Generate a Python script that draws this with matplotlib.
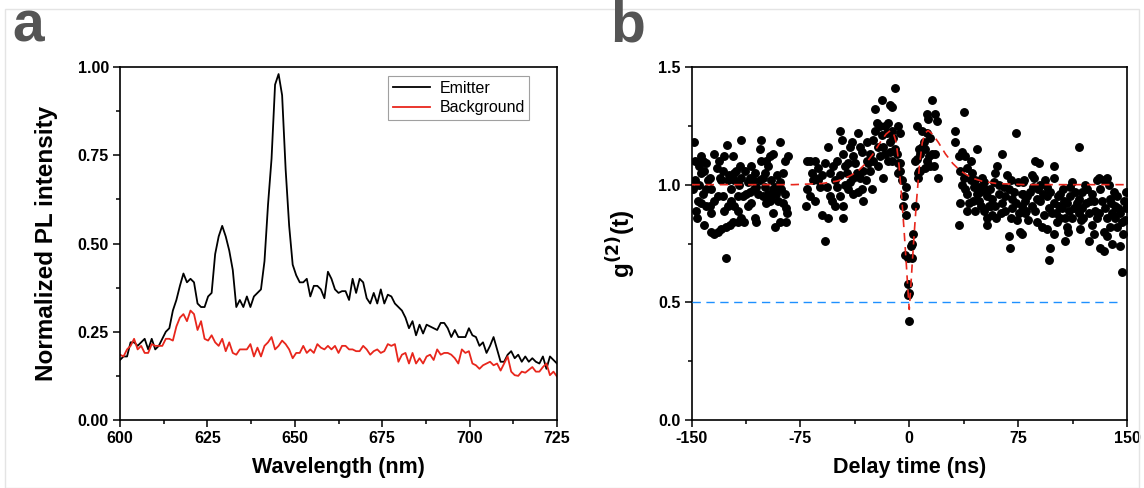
import numpy as np
import matplotlib
matplotlib.use("Agg")
import matplotlib.pyplot as plt
from matplotlib.ticker import MultipleLocator, FixedLocator
from matplotlib.patches import Rectangle

plt.rcParams['font.family'] = ['Liberation Sans', 'DejaVu Sans']
plt.rcParams['axes.unicode_minus'] = False

# ---- panel a: PL spectra (1 nm steps, 600-725 nm) ----
emitter = [0.17, 0.18, 0.18, 0.22, 0.22, 0.21, 0.22, 0.23, 0.20, 0.23,
           0.20, 0.21, 0.23, 0.25, 0.26, 0.31, 0.34, 0.38, 0.415, 0.39,
           0.40, 0.39, 0.33, 0.32, 0.32, 0.35, 0.36, 0.47, 0.52, 0.55,
           0.52, 0.48, 0.425, 0.32, 0.34, 0.32, 0.35, 0.32, 0.35, 0.36,
           0.37, 0.45, 0.61, 0.74, 0.95, 0.98, 0.92, 0.71, 0.55, 0.44,
           0.41, 0.39, 0.39, 0.40, 0.35, 0.38, 0.38, 0.37, 0.345, 0.42,
           0.40, 0.37, 0.36, 0.365, 0.365, 0.34, 0.40, 0.36, 0.40, 0.39,
           0.345, 0.33, 0.36, 0.33, 0.37, 0.33, 0.355, 0.35, 0.33, 0.32,
           0.31, 0.29, 0.26, 0.28, 0.24, 0.27, 0.245, 0.27, 0.265, 0.26,
           0.255, 0.275, 0.275, 0.26, 0.235, 0.255, 0.235, 0.235, 0.235, 0.26,
           0.24, 0.235, 0.21, 0.22, 0.19, 0.21, 0.235, 0.20, 0.165, 0.165,
           0.185, 0.195, 0.175, 0.185, 0.165, 0.18, 0.165, 0.175, 0.165, 0.16,
           0.18, 0.145, 0.18, 0.17, 0.16]
background = [0.185, 0.18, 0.20, 0.21, 0.23, 0.20, 0.21, 0.19, 0.19, 0.215,
              0.21, 0.21, 0.21, 0.23, 0.23, 0.225, 0.265, 0.29, 0.30, 0.28,
              0.31, 0.30, 0.255, 0.28, 0.23, 0.225, 0.24, 0.22, 0.21, 0.23,
              0.195, 0.22, 0.19, 0.185, 0.20, 0.20, 0.20, 0.215, 0.18, 0.205,
              0.18, 0.21, 0.22, 0.235, 0.20, 0.21, 0.225, 0.215, 0.20, 0.175,
              0.19, 0.19, 0.21, 0.19, 0.20, 0.19, 0.215, 0.205, 0.20, 0.21,
              0.20, 0.21, 0.19, 0.21, 0.21, 0.20, 0.20, 0.195, 0.195, 0.21,
              0.20, 0.185, 0.195, 0.20, 0.19, 0.195, 0.215, 0.21, 0.215, 0.165,
              0.185, 0.19, 0.16, 0.19, 0.16, 0.175, 0.16, 0.18, 0.185, 0.17,
              0.20, 0.185, 0.19, 0.19, 0.185, 0.175, 0.16, 0.20, 0.19, 0.195,
              0.16, 0.155, 0.145, 0.155, 0.16, 0.165, 0.155, 0.16, 0.14, 0.16,
              0.18, 0.137, 0.127, 0.125, 0.137, 0.134, 0.142, 0.15, 0.137, 0.137,
              0.15, 0.16, 0.127, 0.137, 0.123]
wavelength = np.linspace(600, 725, len(emitter))

# ---- panel b: g2(t) points (delay ns, g2) ----
g2_left = [(-148.4, 1.18), (-147.9, 1.10), (-147.5, 1.02), (-149.1, 0.98), (-145.7, 0.93),
           (-146.8, 0.89), (-146.1, 0.86), (-143.4, 1.12), (-142.2, 1.10), (-141.1, 1.06),
           (-143.4, 1.05), (-139.9, 1.09), (-138.8, 1.02), (-137.6, 1.03), (-136.5, 0.98),
           (-142.2, 0.96), (-143.4, 0.92), (-139.9, 0.91), (-137.6, 0.91), (-134.2, 0.93),
           (-136.5, 0.88), (-141.1, 0.83), (-136.5, 0.80), (-134.2, 0.79), (-131.9, 0.80),
           (-129.6, 0.81), (-126.1, 0.82), (-123.8, 0.83), (-121.5, 0.84), (-118.1, 0.84),
           (-113.5, 0.84), (-134.6, 1.13), (-132.3, 1.07), (-130.7, 1.03), (-129.6, 1.02),
           (-128.4, 1.06), (-127.7, 1.12), (-125.4, 1.17), (-125.0, 1.02), (-121.5, 1.12),
           (-122.7, 0.98), (-120.4, 1.02), (-119.2, 1.06), (-116.9, 1.08), (-115.8, 1.19),
           (-115.8, 1.03), (-118.1, 0.95), (-122.7, 0.93), (-125.0, 0.91), (-127.3, 0.89),
           (-120.4, 0.91), (-118.1, 0.89), (-115.8, 0.86), (-114.6, 0.95), (-112.3, 0.96),
           (-111.2, 1.01), (-110.0, 1.03), (-108.9, 1.08), (-107.7, 1.02), (-106.6, 1.05),
           (-105.4, 0.99), (-104.3, 0.96), (-108.9, 0.92), (-111.2, 0.91), (-106.6, 0.86),
           (-105.4, 0.84), (-103.1, 1.15), (-102.0, 1.19), (-102.0, 1.10), (-100.8, 1.03),
           (-98.5, 1.10), (-97.4, 1.08), (-96.2, 1.12), (-93.9, 1.13), (-99.7, 1.05),
           (-99.7, 0.99), (-97.4, 0.96), (-98.5, 0.92), (-96.2, 0.93), (-93.9, 0.98),
           (-95.1, 1.02), (-92.8, 0.99), (-91.6, 0.96), (-89.3, 1.18), (-89.3, 1.01),
           (-88.2, 0.98), (-90.5, 0.93), (-87.0, 0.92), (-85.9, 0.96), (-84.7, 0.90),
           (-84.0, 0.88), (-85.9, 1.10), (-83.6, 1.12), (-93.9, 0.88), (-92.8, 0.82),
           (-89.3, 0.84), (-84.7, 0.84), (-126.3, 0.69), (-144.5, 1.00), (-140.0, 0.98),
           (-132.0, 0.95), (-128.0, 0.95), (-124.0, 1.04), (-117.0, 1.00), (-113.0, 1.06),
           (-110.0, 0.97), (-103.0, 1.02), (-101.0, 0.95), (-95.0, 0.94), (-91.0, 1.04),
           (-87.0, 1.05), (-145.0, 1.08), (-131.0, 1.10), (-121.0, 1.05), (-107.0, 0.98)]
g2_rise = [(-70.7, 1.10), (-68.4, 1.10), (-65.0, 1.10), (-65.0, 1.03), (-66.1, 1.02),
           (-62.7, 1.02), (-61.5, 0.99), (-70.7, 0.98), (-68.4, 0.95), (-71.2, 0.91),
           (-65.0, 0.93), (-60.4, 0.87), (-55.8, 0.86), (-58.1, 0.76), (-58.1, 1.09),
           (-55.8, 1.16), (-54.6, 1.05), (-52.3, 1.08), (-50.0, 1.10), (-51.2, 1.02),
           (-50.0, 0.99), (-54.6, 0.95), (-53.5, 0.93), (-51.2, 0.91), (-45.4, 0.91),
           (-45.4, 0.86), (-47.7, 0.95), (-47.7, 1.23), (-46.6, 1.19), (-45.4, 1.13),
           (-44.3, 1.08), (-43.1, 1.05), (-40.8, 1.16), (-39.7, 1.18), (-38.5, 1.12),
           (-37.4, 1.09), (-38.5, 1.03), (-40.8, 1.01), (-42.0, 0.98), (-38.5, 0.96),
           (-35.1, 1.22), (-33.9, 1.16), (-32.8, 1.14), (-33.9, 1.03), (-31.6, 1.06),
           (-32.8, 0.98), (-31.6, 0.93), (-29.3, 1.10), (-28.2, 1.09), (-29.3, 1.18),
           (-25.9, 0.98), (-27.0, 1.06), (-24.7, 1.19), (-23.6, 1.23), (-23.6, 1.32),
           (-18.9, 1.36), (-13.2, 1.34), (-9.8, 1.41), (-12.1, 1.33), (-22.4, 1.26),
           (-20.1, 1.25), (-16.7, 1.25), (-14.4, 1.26), (-12.1, 1.23), (-15.5, 1.22),
           (-18.9, 1.21), (-21.3, 1.16), (-17.8, 1.16), (-13.2, 1.18), (-10.9, 1.20),
           (-7.5, 1.25), (-6.3, 1.22), (-9.8, 1.15), (-13.2, 1.14), (-16.7, 1.13),
           (-20.1, 1.12), (-21.3, 1.08), (-17.8, 1.03), (-14.4, 1.10), (-12.1, 1.10),
           (-8.6, 1.13), (-7.5, 1.09), (-6.3, 1.06), (-5.2, 1.02), (-67.0, 1.05),
           (-63.0, 1.07), (-60.0, 1.04), (-57.0, 0.99), (-48.0, 1.04), (-44.0, 1.00),
           (-36.0, 1.05), (-30.0, 1.02), (-27.0, 1.13), (-25.0, 1.10), (-35.0, 0.97),
           (-42.0, 1.09)]
g2_dip = [(-2.2, 0.99), (-3.6, 0.95), (-4.0, 0.91), (-2.4, 0.87), (-2.9, 0.70),
          (-1.0, 0.69), (1.7, 0.69), (2.2, 0.75), (2.9, 0.79), (1.3, 0.74),
          (-0.6, 0.58), (0.1, 0.54), (-1.0, 0.53), (0.1, 0.42), (4.0, 0.91),
          (6.1, 1.05), (-6.6, 1.09), (-7.7, 1.05)]
g2_fall = [(6.1, 1.03), (6.5, 1.06), (5.4, 1.11), (4.2, 1.10), (7.7, 1.13), (8.8, 1.16),
           (11.1, 1.15), (10.0, 1.18), (12.3, 1.22), (14.6, 1.20), (5.4, 1.25), (8.8, 1.23),
           (12.3, 1.30), (12.8, 1.28), (15.7, 1.36), (18.0, 1.30), (19.2, 1.27), (13.4, 1.12),
           (15.7, 1.13), (18.0, 1.13), (12.3, 1.10), (14.6, 1.08), (11.1, 1.07), (16.9, 1.08),
           (19.9, 1.03), (7.7, 1.06), (6.5, 1.15), (37.6, 1.31), (31.8, 1.23), (31.8, 1.18),
           (46.8, 1.15), (36.4, 1.14), (34.1, 1.12), (38.7, 1.12), (42.2, 1.10), (39.9, 1.07),
           (35.3, 1.06), (43.3, 1.05), (37.6, 1.03), (36.4, 1.00), (38.7, 0.98), (39.9, 0.96),
           (42.2, 1.02), (45.6, 1.02), (44.5, 0.99), (35.3, 0.92), (39.9, 0.89), (34.1, 0.83),
           (46.8, 0.96), (47.9, 0.93), (45.6, 0.89), (49.1, 0.91), (50.2, 1.03), (51.4, 1.01),
           (52.5, 0.98), (53.6, 0.95), (51.4, 0.89), (54.8, 0.91), (53.6, 0.86), (53.6, 0.83),
           (57.1, 0.87), (55.9, 0.98), (58.3, 1.01), (59.4, 1.05), (60.5, 1.08), (64.0, 1.13),
           (61.7, 0.96), (64.0, 0.92), (62.9, 0.88), (66.3, 0.89), (67.4, 1.04), (69.8, 1.02),
           (68.6, 0.98), (70.9, 0.94), (73.2, 0.92), (69.8, 0.86), (75.5, 0.88), (76.6, 0.80),
           (68.6, 0.78), (69.3, 0.73), (73.6, 1.22), (79.0, 1.02), (77.8, 0.96), (80.1, 0.89),
           (59.4, 0.91), (65.1, 0.99), (47.9, 0.99), (57.0, 0.94), (62.0, 1.00), (66.0, 0.95),
           (72.0, 0.97), (75.0, 1.01), (44.0, 0.93), (41.0, 0.92), (49.0, 0.97), (56.0, 0.91),
           (60.0, 0.86), (71.0, 0.90), (74.0, 0.85)]
g2_tail = [(86.7, 1.10), (89.7, 1.09), (84.4, 1.04), (86.1, 1.03), (99.4, 1.08), (99.4, 1.03),
           (116.6, 1.16), (78.7, 1.01), (78.7, 0.96), (81.0, 0.95), (77.5, 0.91), (79.8, 0.88),
           (82.1, 0.85), (77.5, 0.79), (84.4, 0.91), (86.7, 0.89), (89.0, 0.98), (90.2, 0.93),
           (92.5, 0.87), (93.6, 1.02), (94.8, 0.99), (87.9, 0.84), (91.3, 0.82), (94.8, 0.81),
           (99.4, 0.79), (97.1, 0.73), (96.6, 0.68), (98.2, 0.88), (99.4, 0.92), (101.7, 0.84),
           (102.8, 0.95), (104.0, 0.96), (106.3, 0.93), (105.1, 0.90), (108.6, 0.92), (107.4, 0.86),
           (107.4, 0.76), (109.7, 0.80), (110.9, 0.99), (112.0, 1.01), (113.2, 0.90), (115.5, 0.92),
           (116.6, 0.88), (117.8, 0.81), (118.9, 0.97), (121.2, 1.00), (122.4, 0.98), (124.7, 0.93),
           (127.0, 0.93), (128.1, 0.89), (123.5, 0.76), (125.8, 0.83), (129.3, 1.02), (130.4, 1.03),
           (131.6, 0.98), (133.9, 1.02), (136.2, 1.03), (137.3, 1.00), (132.7, 0.93), (133.9, 0.80),
           (131.6, 0.73), (133.9, 0.72), (136.2, 0.86), (138.5, 0.82), (139.6, 0.75), (143.1, 0.95),
           (141.9, 0.91), (145.4, 0.88), (146.5, 0.84), (145.4, 0.74), (147.7, 0.93), (148.8, 0.85),
           (146.5, 0.63), (127.0, 0.79), (108.6, 0.82), (136.2, 0.78), (143.1, 0.82), (140.8, 0.97),
           (83.0, 0.97), (88.0, 0.94), (92.0, 0.96), (96.0, 0.90), (101.0, 0.88), (104.0, 0.86),
           (111.0, 0.95), (114.0, 0.97), (119.0, 0.90), (120.0, 0.86), (122.0, 0.92), (126.0, 0.96),
           (129.0, 0.86), (135.0, 0.90), (138.0, 0.94), (140.0, 0.88), (144.0, 0.90), (149.0, 0.90),
           (142.0, 0.86), (112.0, 0.86), (95.0, 0.95), (103.0, 0.91), (117.0, 0.94), (131.0, 0.88),
           (80.0, 0.93), (85.0, 0.99), (90.0, 1.00), (97.0, 0.97), (110.0, 0.89), (149.5, 0.97),
           (147.0, 0.79), (118.0, 0.85), (124.0, 0.88), (139.0, 0.92), (106.0, 0.98)]

# fitted curve
fit_t = [-150, -80, -60, -50, -45, -40, -35, -30, -25, -20, -16, -13, -11, -9, -7, -5,
         -3.5, -2, -1, 0, 1, 2, 3.5, 5, 7, 9, 11, 13, 16, 20, 25, 30, 35, 40, 45, 50, 60, 80, 150]
fit_g = [1.0, 1.0, 1.005, 1.015, 1.025, 1.04, 1.06, 1.09, 1.13, 1.18, 1.215, 1.23, 1.22, 1.18,
         1.08, 0.93, 0.80, 0.66, 0.56, 0.47, 0.56, 0.66, 0.80, 0.93, 1.08, 1.18, 1.22, 1.23,
         1.215, 1.18, 1.13, 1.09, 1.06, 1.04, 1.025, 1.015, 1.005, 1.0, 1.0]
half_t = [-150, 146]
half_g = [0.5, 0.5]

fig = plt.figure(figsize=(11.44, 4.88), dpi=100)
# faint frame around the whole figure
fig.patches.append(Rectangle((5/1144, 0), 1134/1144, 1 - 9/488, transform=fig.transFigure,
                             fill=False, edgecolor='#e4e4e4', lw=1.0))
ax1 = fig.add_axes([120/1144, 68/488, 437/1144, 353/488])
ax2 = fig.add_axes([691.5/1144, 68/488, 435.5/1144, 353/488])

xlab_font = dict(fontsize=15.5, fontweight='bold')
ylab_font = dict(fontsize=17.5, fontweight='bold')

def style(ax):
    for s in ax.spines.values():
        s.set_linewidth(1.2)
    ax.tick_params(which='both', direction='out', top=False, right=False, width=1.1)
    ax.tick_params(which='major', length=5, labelsize=11.5, pad=3)
    ax.tick_params(which='minor', length=3)
    for lab in ax.get_xticklabels() + ax.get_yticklabels():
        lab.set_fontweight('bold')

# panel a
ax1.plot(wavelength, emitter, color='black', lw=1.3, label='Emitter')
ax1.plot(wavelength, background, color='#e8261c', lw=1.3, label='Background')
ax1.set_xlim(600, 725)
ax1.set_ylim(0, 1.0)
ax1.xaxis.set_major_locator(MultipleLocator(25))
ax1.xaxis.set_minor_locator(MultipleLocator(12.5))
ax1.yaxis.set_minor_locator(MultipleLocator(0.125))
ax1.set_yticks([0, 0.25, 0.5, 0.75, 1.0], ['0.00', '0.25', '0.50', '0.75', '1.00'])
ax1.set_xlabel('Wavelength (nm)', labelpad=8, **xlab_font)
ax1.set_ylabel('Normalized PL intensity', labelpad=14, **ylab_font)
leg = ax1.legend(loc='upper right', bbox_to_anchor=(0.937, 0.975), borderaxespad=0,
                 fontsize=11.5, frameon=True, fancybox=False, handlelength=2.3,
                 borderpad=0.3, labelspacing=0.3, handletextpad=0.6)
leg.get_frame().set_edgecolor('#888888')
leg.get_frame().set_linewidth(0.8)
style(ax1)

# panel b
for seg in (g2_left, g2_rise, g2_dip, g2_fall, g2_tail):
    t, g = np.array(seg).T
    ax2.plot(t, g, 'o', color='black', ms=5.4, mec='black', zorder=2)
ax2.plot(fit_t, fit_g, color='#e8261c', lw=1.2, dashes=(5, 3.5), zorder=3)
ax2.plot(half_t, half_g, color='#1e90ff', lw=1.0, dashes=(6, 4), zorder=3)
ax2.set_xlim(-150, 150)
ax2.set_ylim(0, 1.5)
ax2.xaxis.set_major_locator(FixedLocator([-150, -75, 0, 75, 150]))
ax2.xaxis.set_minor_locator(MultipleLocator(37.5))
ax2.yaxis.set_major_locator(MultipleLocator(0.5))
ax2.yaxis.set_minor_locator(MultipleLocator(0.25))
ax2.set_xlabel('Delay time (ns)', labelpad=8, **xlab_font)
ax2.set_ylabel('g$^{\\mathbf{(2)}}$(t)', labelpad=14, **ylab_font)
style(ax2)

# panel letters
fig.text(12/1144, 1 - 42/488, 'a', fontsize=41, fontweight='bold', color='#555555')
fig.text(610/1144, 1 - 42/488, 'b', fontsize=41, fontweight='bold', color='#555555')

fig.savefig('out.png', dpi=100)
